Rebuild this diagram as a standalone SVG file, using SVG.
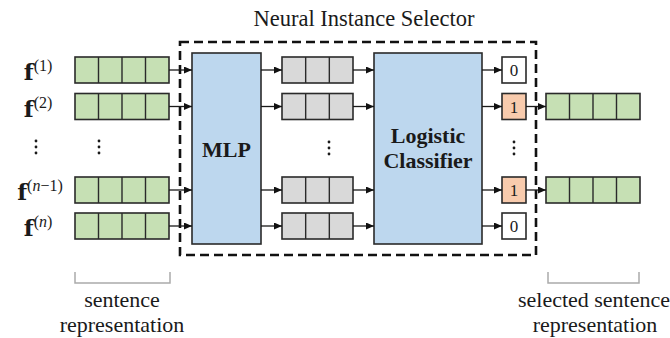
<svg xmlns="http://www.w3.org/2000/svg" xmlns:xlink="http://www.w3.org/1999/xlink" width="670" height="338" viewBox="0 0 670 338" font-family="'Liberation Serif', serif">
<style>
text, tspan { font-family: 'Liberation Serif', 'Times New Roman', serif; fill: #1a1a1a; }
.box { stroke: #2a2a2a; stroke-width: 1.6; }
.green { fill: #c6e0b4; }
.gray { fill: #d9d9d9; }
.blue { fill: #bdd7ee; }
.orange { fill: #f8cbad; }
.white { fill: #ffffff; }
.div { stroke: #2a2a2a; stroke-width: 1.4; fill: none; }
.conn { stroke: #1a1a1a; stroke-width: 1.3; fill: none; marker-end: url(#ah); }
.dash { fill: none; stroke: #111; stroke-width: 2.6; stroke-dasharray: 9 5; }
.brk { fill: none; stroke: #aaaaaa; stroke-width: 1.5; }
.lbl { font-family: 'Liberation Serif', serif; font-size: 22px; }
.big { font-family: 'Liberation Serif', serif; font-size: 22px; font-weight: bold; }
.bit { font-family: 'Liberation Serif', serif; font-size: 17px; }
tspan.fb { font-family: 'DejaVu Serif', 'Liberation Serif', serif; font-size: 23px; font-weight: bold; }
.sup { font-family: 'Liberation Serif', serif; font-size: 16px; }
.dot { fill: #1a1a1a; }
</style>
<defs>
  <marker id="ah" viewBox="0 0 8 7" refX="8" refY="3.5" markerWidth="8" markerHeight="7" markerUnits="userSpaceOnUse" orient="auto">
    <path d="M0,0 L8,3.5 L0,7 z" fill="#111"/>
  </marker>
  <g id="g4">
    <rect width="94" height="26" class="box green"/>
    <path d="M23.5,0v26M47,0v26M70.5,0v26" class="div"/>
  </g>
  <g id="g3">
    <rect width="71" height="26" class="box gray"/>
    <path d="M23.67,0v26M47.33,0v26" class="div"/>
  </g>
  <g id="vdots">
    <circle cx="0" cy="0" r="1.4" class="dot"/>
    <circle cx="0" cy="6" r="1.4" class="dot"/>
    <circle cx="0" cy="12" r="1.4" class="dot"/>
  </g>
</defs>
<rect width="670" height="338" fill="#ffffff"/>

<g id="selector-frame">
  <rect x="180" y="42" width="356" height="213" class="dash"/>
  <text x="364" y="26" text-anchor="middle" font-family="'Liberation Serif', serif" font-size="22.5">Neural Instance Selector</text>
</g>

<g id="labels" font-family="'Liberation Serif', serif">
  <text x="38" y="80" text-anchor="middle"><tspan class="fb">f</tspan><tspan class="sup" dy="-9">(1)</tspan></text>
  <text x="38" y="116.5" text-anchor="middle"><tspan class="fb">f</tspan><tspan class="sup" dy="-9">(2)</tspan></text>
  <text x="40" y="200" text-anchor="middle"><tspan class="fb">f</tspan><tspan class="sup" dy="-9">(<tspan font-style="italic">n</tspan>−1)</tspan></text>
  <text x="38" y="236" text-anchor="middle"><tspan class="fb">f</tspan><tspan class="sup" dy="-9">(<tspan font-style="italic">n</tspan>)</tspan></text>
  <use xlink:href="#vdots" href="#vdots" x="36" y="141"/>
</g>

<g id="input-vectors">
  <use xlink:href="#g4" href="#g4" x="75" y="57"/>
  <use xlink:href="#g4" href="#g4" x="75" y="93.5"/>
  <use xlink:href="#g4" href="#g4" x="75" y="177"/>
  <use xlink:href="#g4" href="#g4" x="75" y="213"/>
  <use xlink:href="#vdots" href="#vdots" x="99" y="141"/>
</g>

<g id="mlp">
  <rect x="192" y="53" width="69" height="191" class="box blue"/>
  <text x="226.5" y="157" text-anchor="middle" class="big" font-family="'Liberation Serif', serif">MLP</text>
</g>

<g id="hidden-vectors">
  <use xlink:href="#g3" href="#g3" x="282" y="57"/>
  <use xlink:href="#g3" href="#g3" x="282" y="93.5"/>
  <use xlink:href="#g3" href="#g3" x="282" y="177"/>
  <use xlink:href="#g3" href="#g3" x="282" y="213"/>
  <use xlink:href="#vdots" href="#vdots" x="329" y="142"/>
</g>

<g id="logistic-classifier">
  <rect x="374" y="53" width="108" height="191" class="box blue"/>
  <text x="428" y="143" text-anchor="middle" class="big" font-family="'Liberation Serif', serif">Logistic</text>
  <text x="428" y="168" text-anchor="middle" class="big" font-family="'Liberation Serif', serif">Classifier</text>
</g>

<g id="decisions" font-family="'Liberation Serif', serif">
  <rect x="502" y="57" width="24" height="26" class="box white"/>
  <text x="514" y="76" text-anchor="middle" class="bit">0</text>
  <rect x="502" y="93.5" width="24" height="26" class="box orange"/>
  <text x="514" y="112.5" text-anchor="middle" class="bit">1</text>
  <rect x="502" y="177" width="24" height="26" class="box orange"/>
  <text x="514" y="196" text-anchor="middle" class="bit">1</text>
  <rect x="502" y="213" width="24" height="26" class="box white"/>
  <text x="514" y="232" text-anchor="middle" class="bit">0</text>
  <use xlink:href="#vdots" href="#vdots" x="514" y="142"/>
</g>

<g id="selected-vectors">
  <use xlink:href="#g4" href="#g4" x="546" y="93.5"/>
  <use xlink:href="#g4" href="#g4" x="546" y="177"/>
</g>

<g id="connectors">
  <line x1="169" y1="70" x2="192" y2="70" class="conn"/>
  <line x1="169" y1="106.5" x2="192" y2="106.5" class="conn"/>
  <line x1="169" y1="190" x2="192" y2="190" class="conn"/>
  <line x1="169" y1="226" x2="192" y2="226" class="conn"/>
  <line x1="261" y1="70" x2="282" y2="70" class="conn"/>
  <line x1="261" y1="106.5" x2="282" y2="106.5" class="conn"/>
  <line x1="261" y1="190" x2="282" y2="190" class="conn"/>
  <line x1="261" y1="226" x2="282" y2="226" class="conn"/>
  <line x1="353" y1="70" x2="374" y2="70" class="conn"/>
  <line x1="353" y1="106.5" x2="374" y2="106.5" class="conn"/>
  <line x1="353" y1="190" x2="374" y2="190" class="conn"/>
  <line x1="353" y1="226" x2="374" y2="226" class="conn"/>
  <line x1="482" y1="70" x2="502" y2="70" class="conn"/>
  <line x1="482" y1="106.5" x2="502" y2="106.5" class="conn"/>
  <line x1="482" y1="190" x2="502" y2="190" class="conn"/>
  <line x1="482" y1="226" x2="502" y2="226" class="conn"/>
  <line x1="526" y1="106.5" x2="546" y2="106.5" class="conn"/>
  <line x1="526" y1="190" x2="546" y2="190" class="conn"/>
</g>

<g id="legend-left" font-family="'Liberation Serif', serif">
  <path d="M75,272 V283 H170 V272" class="brk"/>
  <text x="122" y="307" text-anchor="middle" class="lbl">sentence</text>
  <text x="122" y="332" text-anchor="middle" class="lbl">representation</text>
</g>

<g id="legend-right" font-family="'Liberation Serif', serif">
  <path d="M548,272 V283 H639 V272" class="brk"/>
  <text x="594" y="307" text-anchor="middle" class="lbl">selected sentence</text>
  <text x="595" y="332" text-anchor="middle" class="lbl">representation</text>
</g>
</svg>
